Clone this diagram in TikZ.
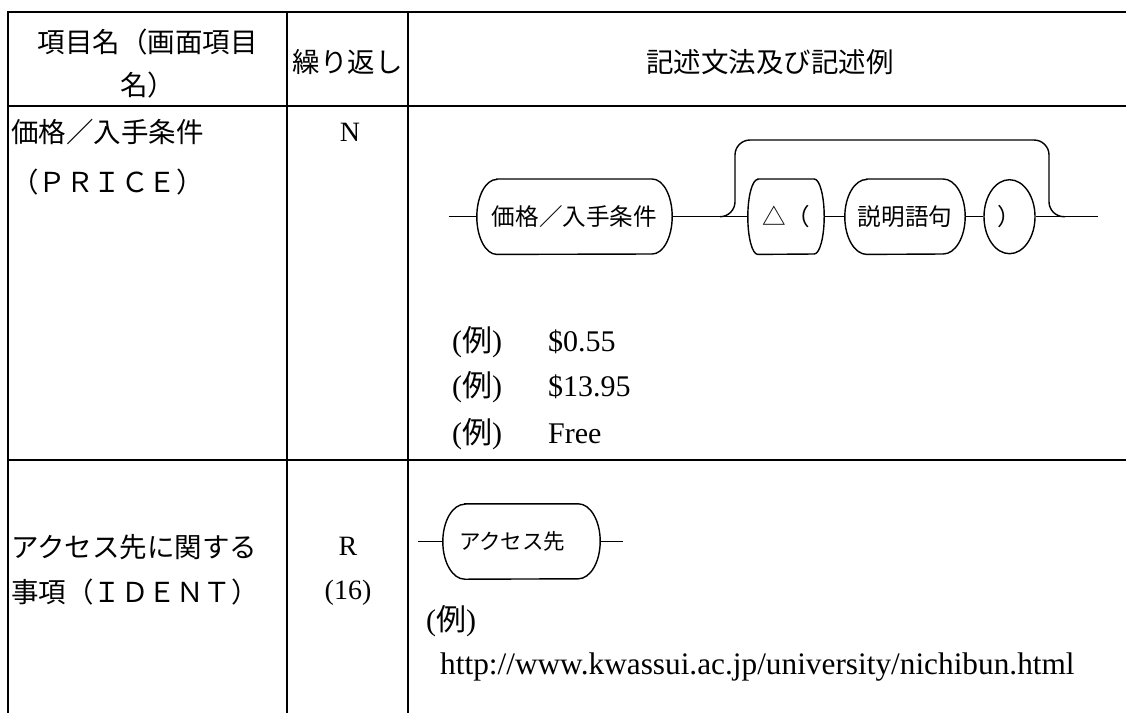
\documentclass[tikz,border=0pt]{standalone}
\usepackage{fontspec}
\setmainfont{Liberation Serif}
\newfontfamily\cjk{Noto Sans CJK JP}
\usetikzlibrary{shapes.geometric}

\newcommand\termoutline[2]{%
  \draw[rail] ([xshift=#2]#1.north west) -- ([xshift=-#2]#1.north east)
    arc[start angle=90, end angle=-90, x radius=#2, y radius=37.5pt]
    -- ([xshift=#2]#1.south west)
    arc[start angle=270, end angle=90, x radius=#2, y radius=37.5pt] -- cycle;}

\begin{document}
\begin{tikzpicture}[x=1pt, y=-1pt, every node/.style={inner sep=0pt},
    grid/.style={line width=2.4pt},
    rail/.style={line width=1.4pt},
    cell/.style={font=\cjk\fontsize{27.5}{33}\selectfont},
    latin/.style={font=\fontsize{28}{44}\selectfont},
    ex/.style={font=\fontsize{30}{36}\selectfont},
    term/.style={minimum height=75pt, font=\cjk\fontsize{23.6}{28}\selectfont}]

        \useasboundingbox (0,0) rectangle (1126,713);

        % table
        \draw[grid] (1126,12) -- (8,12) -- (8,713);
        \draw[grid] (8,106) -- (1126,106);
        \draw[grid] (8,460) -- (1126,460);
        \draw[grid] (287,12) -- (287,713);
        \draw[grid] (408,12) -- (408,713);

        \node[cell, align=center, font=\cjk\fontsize{27.5}{43}\selectfont] (H1) at (147.5,63.5) {項目名（画面項目\\名）};
        \node[cell] (H2) at (347.5,62) {繰り返し};
        \node[cell] (H3) at (770,62) {記述文法及び記述例};

        \node[cell, anchor=west, align=left, font=\cjk\fontsize{27.5}{50}\selectfont] (P) at (11,157) {価格／入手条件\\（ＰＲＩＣＥ）};
        \node[latin] (N) at (350,132) {N};

        \node[cell, anchor=west, align=left, font=\cjk\fontsize{27.5}{45}\selectfont] (Q) at (11,569.5) {アクセス先に関する\\事項（ＩＤＥＮＴ）};
        \node[latin, align=center] (R) at (348,571) {R\\(16)};

        % syntax of the price item
        \node[term, minimum width=195pt] (A) at (574.5,216.7) {価格／入手条件};
        \node[term, minimum width=76pt] (B) at (786,216.7) {△（};
        \node[term, minimum width=120pt] (C) at (905,216.7) {説明語句};
        \node[term, ellipse, draw, line width=1.4pt, minimum width=51pt, minimum height=74pt] (D) at (1009.5,216.7) {）};
        \termoutline{A}{20pt}
        \termoutline{B}{10pt}
        \termoutline{C}{22pt}

        \coordinate (L1) at (448.7,216.7);
        \coordinate (L2) at (1098,216.7);
        \coordinate (S1) at (720,216.7);
        \coordinate (S2) at (1065,216.7);
        \coordinate (T1) at (735,140);
        \coordinate (T2) at (1049,140);

        \draw[rail] (L1) to (A);
        \draw[rail] (A) to (B);
        \draw[rail] (B) to (C);
        \draw[rail] (C) to (D);
        \draw[rail] (D) to (L2);
        \draw[rail, rounded corners=15pt] (S1) -| (T1) -- (T2) |- (S2);

        \node[ex, anchor=base west] (X1) at (452,351) {({\cjk 例})};
        \node[ex, anchor=base west] (V1) at (548,351) {\$0.55};
        \node[ex, anchor=base west] (X2) at (452,396) {({\cjk 例})};
        \node[ex, anchor=base west] (V2) at (548,396) {\$13.95};
        \node[ex, anchor=base west] (X3) at (452,443) {({\cjk 例})};
        \node[ex, anchor=base west] (V3) at (548,443) {Free};

        % syntax of the access item
        \node[term, minimum width=157pt, inner xsep=16pt, text width=125pt, align=left, font=\cjk\fontsize{21.5}{26}\selectfont] (E) at (521.5,541.5) {アクセス先};
        \termoutline{E}{22pt}
        \coordinate (L3) at (418,541.5);
        \coordinate (L4) at (623,541.5);
        \draw[rail] (L3) to (E);
        \draw[rail] (E) to (L4);

        \node[ex, anchor=base west] (X4) at (426,630) {({\cjk 例})};
        \node[ex, anchor=base west, font=\fontsize{31.3}{36}\selectfont] (U) at (440,674) {http://www.kwassui.ac.jp/university/nichibun.html};

\end{tikzpicture}
\end{document}
